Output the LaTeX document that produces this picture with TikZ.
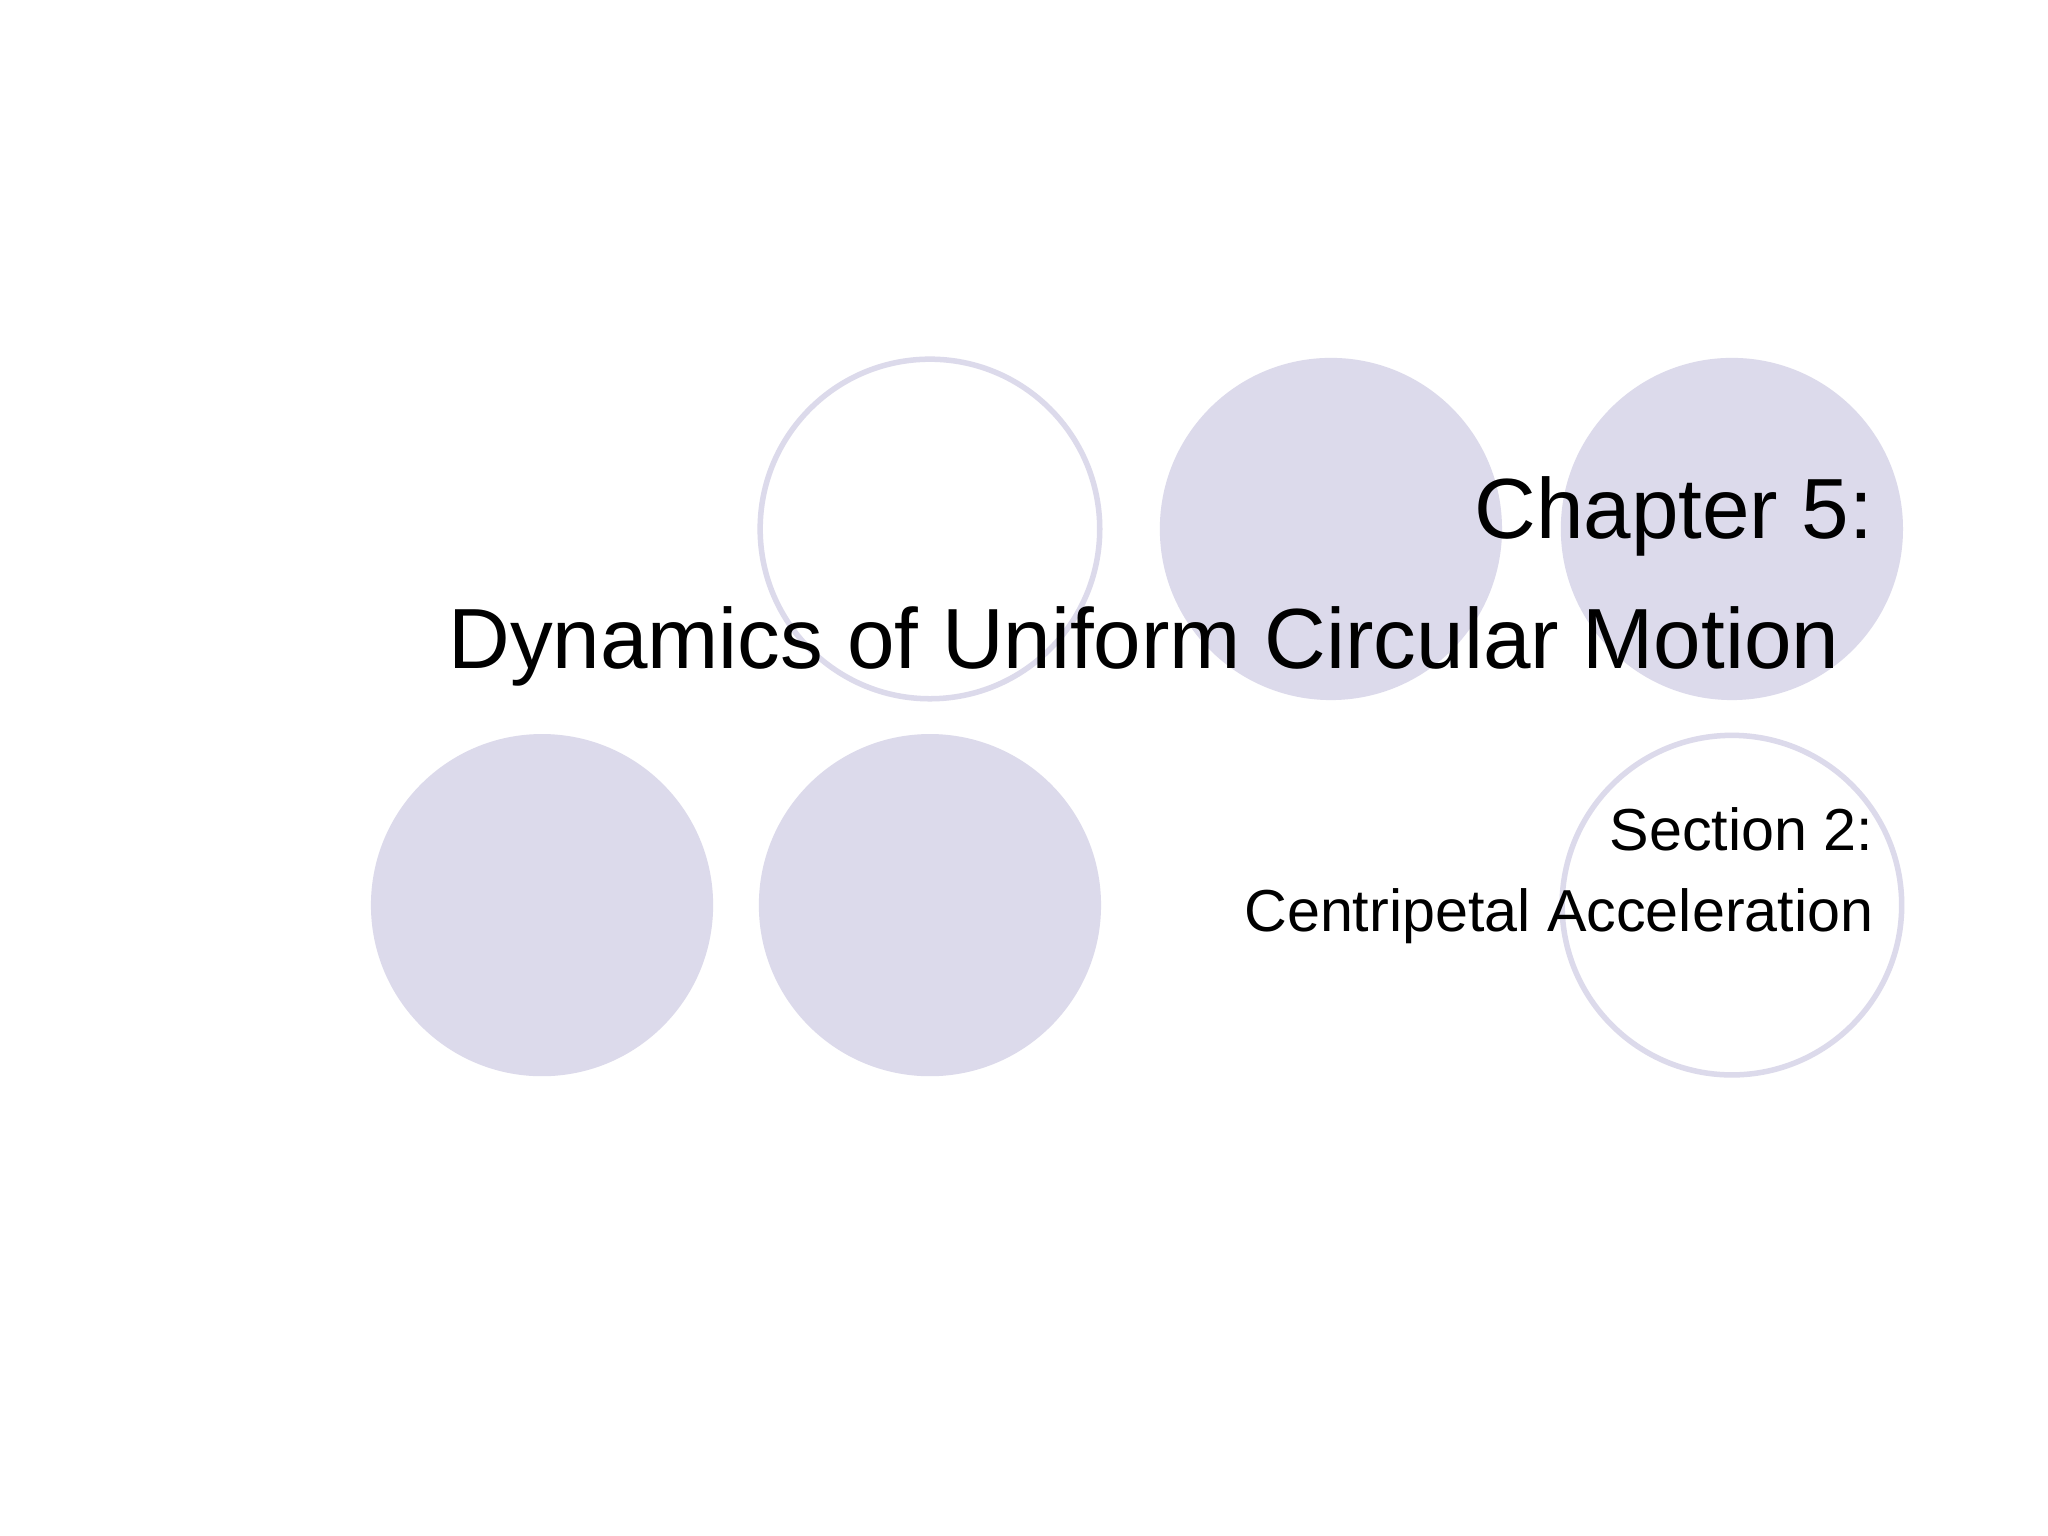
\documentclass[tikz,border=0pt]{standalone}
\usepackage{fontspec}
\setmainfont{Liberation Sans}
\definecolor{circ}{HTML}{DCDAEB}
\begin{document}
\begin{tikzpicture}[x=0.01cm,y=-0.01cm,
  filled/.style={fill=circ},
  ring/.style={draw=circ,line width=1.2pt},
  big/.style={font=\fontsize{18.6}{22}\selectfont,anchor=base east,inner sep=0},
  small/.style={font=\fontsize{12.9}{16}\selectfont,anchor=base east,inner sep=0}]
\useasboundingbox (0,0) rectangle (1568,1176);
\fill[white] (0,0) rectangle (1568,1176);
\draw[ring] (712,405) circle (130);
\fill[filled] (1019,405) circle (131);
\fill[filled] (1326,405) circle (131);
\fill[filled] (415,693) circle (131);
\fill[filled] (712,693) circle (131);
\draw[ring] (1326,693) circle (130);
\node[big] (t1) at (1435,412) {Chapter 5:};
\node[big] (t2) at (1409,512) {Dynamics of Uniform Circular Motion};
\node[small] (s1) at (1435,651) {Section 2:};
\node[small] (s2) at (1435,713) {Centripetal Acceleration};
\end{tikzpicture}
\end{document}
